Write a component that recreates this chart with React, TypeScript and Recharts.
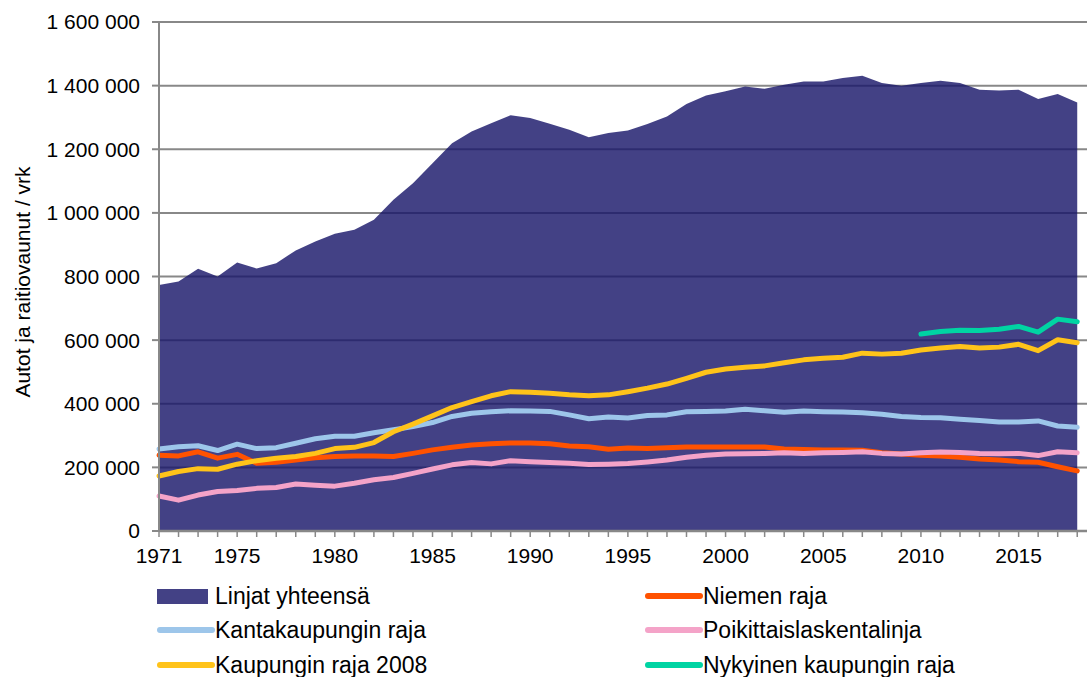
import { ComposedChart, Area, Line, XAxis, YAxis, CartesianGrid, Label } from 'recharts';

const years = Array.from({ length: 48 }, (_, i) => 1971 + i);
const labelYears = [1971, 1975, 1980, 1985, 1990, 1995, 2000, 2005, 2010, 2015];
const yTicks = [0, 200000, 400000, 600000, 800000, 1000000, 1200000, 1400000, 1600000];

const linjatYhteensa = [
  773000, 784000, 824000, 800000, 844000, 825000, 842000, 882000, 910000, 934000,
  947000, 978000, 1041000, 1093000, 1156000, 1219000, 1256000, 1282000, 1307000, 1298000,
  1280000, 1261000, 1238000, 1251000, 1259000, 1279000, 1303000, 1342000, 1369000, 1382000,
  1397000, 1390000, 1403000, 1413000, 1413000, 1424000, 1431000, 1408000, 1400000, 1408000,
  1415000, 1408000, 1387000, 1385000, 1387000, 1358000, 1374000, 1347000,
];
const niemenRaja = [
  238000, 236000, 249000, 229000, 241000, 213000, 216000, 223000, 230000, 234000,
  236000, 236000, 234000, 244000, 255000, 263000, 270000, 274000, 277000, 277000,
  274000, 267000, 265000, 257000, 261000, 259000, 262000, 264000, 264000, 264000,
  264000, 264000, 258000, 256000, 255000, 255000, 254000, 246000, 242000, 238000,
  236000, 232000, 226000, 223000, 218000, 216000, 202000, 189000,
];
const kantakaupunginRaja = [
  258000, 265000, 268000, 253000, 273000, 259000, 262000, 276000, 290000, 298000,
  298000, 309000, 318000, 328000, 341000, 360000, 370000, 375000, 378000, 377000,
  376000, 365000, 353000, 358000, 355000, 363000, 365000, 375000, 376000, 377000,
  383000, 378000, 373000, 377000, 375000, 374000, 372000, 367000, 360000, 357000,
  356000, 351000, 347000, 343000, 343000, 346000, 330000, 326000,
];
const poikittaislaskentalinja = [
  110000, 97000, 113000, 124000, 127000, 134000, 137000, 148000, 144000, 141000,
  150000, 161000, 168000, 181000, 195000, 208000, 215000, 211000, 221000, 218000,
  215000, 213000, 209000, 210000, 212000, 217000, 223000, 232000, 238000, 242000,
  243000, 244000, 246000, 244000, 246000, 247000, 249000, 244000, 242000, 246000,
  248000, 247000, 244000, 243000, 244000, 237000, 249000, 246000,
];
const kaupunginRaja2008 = [
  173000, 187000, 196000, 194000, 210000, 221000, 229000, 234000, 244000, 259000,
  263000, 278000, 312000, 336000, 362000, 388000, 407000, 425000, 438000, 436000,
  433000, 428000, 425000, 428000, 438000, 449000, 462000, 480000, 499000, 509000,
  515000, 519000, 529000, 538000, 543000, 546000, 559000, 556000, 559000, 569000,
  575000, 580000, 575000, 578000, 587000, 567000, 601000, 592000,
];
const nykyinenKaupunginRaja = [
  null, null, null, null, null, null, null, null, null, null,
  null, null, null, null, null, null, null, null, null, null,
  null, null, null, null, null, null, null, null, null, null,
  null, null, null, null, null, null, null, null, null, 619000,
  627000, 631000, 630000, 634000, 643000, 625000, 666000, 658000,
];

const data = years.map((year, i) => ({
  year,
  linjat: linjatYhteensa[i],
  niemen: niemenRaja[i],
  kanta: kantakaupunginRaja[i],
  poikittais: poikittaislaskentalinja[i],
  kaupunki2008: kaupunginRaja2008[i],
  nykyinen: nykyinenKaupunginRaja[i],
}));

const AREA_FILL = '#1a176a';
const lines = [
  { key: 'niemen', name: 'Niemen raja', color: '#FF5200' },
  { key: 'kanta', name: 'Kantakaupungin raja', color: '#9DC6EA' },
  { key: 'poikittais', name: 'Poikittaislaskentalinja', color: '#F4A3C8' },
  { key: 'kaupunki2008', name: 'Kaupungin raja 2008', color: '#FFC31A' },
  { key: 'nykyinen', name: 'Nykyinen kaupungin raja', color: '#00D4A3' },
];

// legend reads row by row: left column, right column
const legendItems = [
  { name: 'Linjat yhteensä', color: AREA_FILL, area: true },
  lines[0], lines[1], lines[2], lines[3], lines[4],
];

const FONT = '"Liberation Sans", Arial, sans-serif';
const fmt = (n: number) => String(n).replace(/\B(?=(\d{3})+(?!\d))/g, ' ');

export default function App() {
  const rowY = [596, 630, 665];
  const colX = [155, 643];
  return (
    <div style={{ position: 'absolute', left: 0, top: 0, width: 1087, height: 677, background: '#fff', fontFamily: FONT }}>
      <ComposedChart width={1087} height={677} data={data} margin={{ top: 22, right: 0, bottom: 102, left: 0 }}>
        <CartesianGrid vertical={false} stroke="#888" strokeWidth={2} />
        <XAxis
          dataKey="year"
          type="number"
          domain={[1971, 2018.5]}
          ticks={years}
          interval={0}
          tickFormatter={(v) => (labelYears.includes(v) ? String(v) : '')}
          height={44}
          tickSize={6}
          tickMargin={11}
          axisLine={{ stroke: '#888', strokeWidth: 2.5 }}
          tickLine={{ stroke: '#888', strokeWidth: 1.5 }}
          tick={{ fill: '#000', fontSize: 21, fontFamily: FONT }}
        />
        <YAxis
          domain={[0, 1600000]}
          ticks={yTicks}
          interval={0}
          width={159}
          tickSize={7}
          tickMargin={12}
          tickFormatter={fmt}
          axisLine={{ stroke: '#888', strokeWidth: 2 }}
          tickLine={{ stroke: '#888', strokeWidth: 2 }}
          tick={{ fill: '#000', fontSize: 21, fontFamily: FONT }}
        >
          <Label
            content={() => (
              <text
                x={22}
                y={282}
                transform="rotate(-90 22 282)"
                textAnchor="middle"
                dominantBaseline="central"
                fontSize={21}
                fontFamily={FONT}
                fill="#000"
              >
                Autot ja raitiovaunut / vrk
              </text>
            )}
          />
        </YAxis>
        <Area
          type="linear"
          dataKey="linjat"
          name="Linjat yhteensä"
          fill={AREA_FILL}
          fillOpacity={0.82}
          stroke="none"
          dot={false}
          activeDot={false}
          isAnimationActive={false}
        />
        {lines.map((l) => (
          <Line
            key={l.key}
            type="linear"
            dataKey={l.key}
            name={l.name}
            stroke={l.color}
            strokeWidth={5}
            strokeLinejoin="round"
            strokeLinecap="round"
            dot={false}
            activeDot={false}
            connectNulls={false}
            isAnimationActive={false}
          />
        ))}
      </ComposedChart>
      {legendItems.map((item, i) => {
        const x = colX[i % 2];
        const y = rowY[Math.floor(i / 2)];
        return (
          <div key={item.name} style={{ position: 'absolute', left: x, top: y - 14, height: 28, display: 'flex', alignItems: 'center' }}>
            <svg width={60} height={28}>
              {'area' in item && item.area ? (
                <rect x={2} y={7} width={51} height={15} fill={item.color} fillOpacity={0.82} />
              ) : (
                <line x1={5} y1={14} x2={57} y2={14} stroke={item.color} strokeWidth={6} strokeLinecap="round" />
              )}
            </svg>
            <span style={{ fontSize: 23, lineHeight: '28px', marginLeft: 0, color: '#000', whiteSpace: 'nowrap' }}>{item.name}</span>
          </div>
        );
      })}
    </div>
  );
}
